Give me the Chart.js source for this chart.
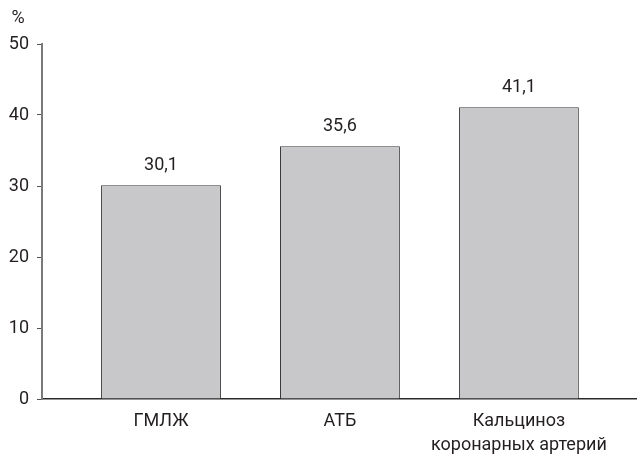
<!DOCTYPE html>
<html>
<head>
<meta charset="utf-8">
<script src="https://cdn.jsdelivr.net/npm/chart.js@4/dist/chart.umd.min.js"></script>
<style>
  body { margin: 0; background: #fff; }
  #chart-container { width: 637px; height: 455px; position: relative; }
</style>
</head>
<body>
<div id="chart-container"><canvas id="myChart"></canvas></div>
<script>
// data
var categories = ["ГМЛЖ", "АТБ", ["Кальциноз", "коронарных артерий"]]
var values = [30.1, 35.6, 41.1]
var yTicks = [0, 10, 20, 30, 40, 50]

var textColor = "#231f20"
var fontFamily = "Roboto, 'Liberation Sans', sans-serif"

// bars on a linear x scale so the first bar can sit away from the y axis
var points = []
for (var i = 0; i < values.length; i++)
{
    points.push({ x: i, y: values[i] })
}

var valueLabels = {
    id: "valueLabels",
    afterDatasetsDraw: function (chart) {
        var ctx = chart.ctx
        var meta = chart.getDatasetMeta(0)
        ctx.save()
        ctx.fillStyle = textColor
        ctx.font = "18px " + fontFamily
        ctx.textAlign = "center"
        ctx.textBaseline = "bottom"
        meta.data.forEach(function (bar, i) {
            ctx.fillText(values[i].toFixed(1).replace(".", ","), bar.x, bar.y - 11)
        })
        // unit sign above the y axis
        ctx.textBaseline = "middle"
        ctx.fillText("%", 18, 18)
        ctx.restore()
    }
}

const ctx = document.getElementById("myChart")
const myChart = new Chart(ctx, {
    type: "bar",
    data: {
        datasets: [{
            data: points,
            backgroundColor: "#c8c8ca",
            borderColor: "#3a3a3a",
            borderWidth: 1,
            barPercentage: 0.67,
            categoryPercentage: 1
        }]
    },
    options: {
        responsive: true,
        maintainAspectRatio: false,
        animation: false,
        layout: { padding: { top: 44, left: 0, right: 0, bottom: 0 } },
        scales: {
            x: {
                type: "linear",
                min: -0.665,
                max: 2.66,
                bounds: "data",
                offset: false,
                afterBuildTicks: function (scale) {
                    scale.ticks = categories.map(function (c, i) { return { value: i } })
                },
                afterFit: function (scale) { scale.height = 56 },
                grid: { offset: false, drawOnChartArea: false, drawTicks: false },
                border: { color: "#2a2a2a", width: 1.5 },
                ticks: {
                    padding: 11,
                    color: textColor,
                    font: { family: fontFamily, size: 18, lineHeight: 1.33 },
                    callback: function (v) { return categories[v] }
                }
            },
            y: {
                min: 0,
                max: 50,
                afterBuildTicks: function (scale) {
                    scale.ticks = yTicks.map(function (v) { return { value: v } })
                },
                afterFit: function (scale) { scale.width = 42 },
                grid: { drawOnChartArea: false, drawTicks: true, tickLength: 5, color: "#555" },
                border: { color: "#7a7a7a", width: 2 },
                ticks: {
                    padding: 8,
                    color: textColor,
                    font: { family: fontFamily, size: 18 }
                }
            }
        },
        plugins: {
            legend: { display: false },
            tooltip: { enabled: false }
        }
    },
    plugins: [valueLabels]
});
</script>
</body>
</html>
